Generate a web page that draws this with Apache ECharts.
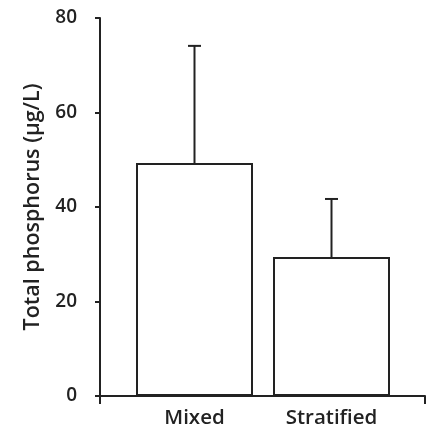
<!DOCTYPE html>
<html>
<head>
<meta charset="utf-8">
<script src="https://cdn.jsdelivr.net/npm/echarts@6/dist/echarts.min.js"></script>
<style>
html,body{margin:0;padding:0;background:#fff;}
#chart{width:426px;height:429px;}
</style>
</head>
<body>
<div id="chart"></div>
<script>
// Data
var categories = ['Mixed', 'Stratified'];
var means = [49.3, 29.4];
var errorTops = [74.1, 41.7];
var yTicks = [0, 20, 40, 60, 80];
var yTitle = 'Total phosphorus (\u00b5g/L)';

var INK = '#222222';
var FONT = '"Open Sans", sans-serif';

var chart = echarts.init(document.getElementById('chart'), null, {renderer: 'canvas'});

var errData = categories.map(function (c, i) { return [i, means[i], errorTops[i]]; });

var option = {
  backgroundColor: '#ffffff',
  animation: false,
  grid: [
    {left: 126, right: 26, top: 18, bottom: 33, containLabel: false},
    {left: 100, right: 1, top: 18, bottom: 33, containLabel: false}
  ],
  xAxis: [
    {
      type: 'category', gridIndex: 0, data: categories,
      axisLine: {show: false}, axisTick: {show: false},
      axisLabel: {color: INK, fontFamily: FONT, fontWeight: 600, fontSize: 20.5, margin: 12}
    },
    {
      type: 'value', gridIndex: 1, min: 0, max: 1, interval: 1,
      axisLine: {show: true, lineStyle: {color: INK, width: 2}},
      axisTick: {show: true, length: 8, lineStyle: {color: INK, width: 2}},
      axisLabel: {show: false}, splitLine: {show: false}
    }
  ],
  yAxis: [
    {
      type: 'value', gridIndex: 0, min: yTicks[0], max: yTicks[yTicks.length - 1], interval: 20,
      show: false, splitLine: {show: false}
    },
    {
      type: 'value', gridIndex: 1, min: yTicks[0], max: yTicks[yTicks.length - 1], interval: 20,
      name: yTitle, nameLocation: 'middle', nameRotate: 90, nameGap: 56,
      nameTextStyle: {color: INK, fontFamily: FONT, fontWeight: 600, fontSize: 21.5},
      axisLine: {show: true, lineStyle: {color: INK, width: 2}},
      axisTick: {show: true, length: 5, lineStyle: {color: INK, width: 2}},
      axisLabel: {color: INK, fontFamily: FONT, fontWeight: 600, fontSize: 19, margin: 23},
      splitLine: {show: false}
    }
  ],
  series: [
    {
      type: 'bar', xAxisIndex: 0, yAxisIndex: 0, data: means,
      barWidth: 117,
      itemStyle: {color: '#ffffff', borderColor: INK, borderWidth: 2}
    },
    {
      type: 'custom', xAxisIndex: 0, yAxisIndex: 0, data: errData,
      encode: {x: 0, y: [1, 2]},
      renderItem: function (params, api) {
        var x = api.value(0);
        var p0 = api.coord([x, api.value(1)]);
        var p1 = api.coord([x, api.value(2)]);
        var half = 6.5;
        return {
          type: 'group',
          children: [
            {type: 'line', shape: {x1: p0[0], y1: p0[1], x2: p1[0], y2: p1[1]}, style: {stroke: INK, lineWidth: 2}},
            {type: 'line', shape: {x1: p1[0] - half, y1: p1[1], x2: p1[0] + half, y2: p1[1]}, style: {stroke: INK, lineWidth: 2}}
          ]
        };
      }
    }
  ]
};
chart.setOption(option);
</script>
</body>
</html>
